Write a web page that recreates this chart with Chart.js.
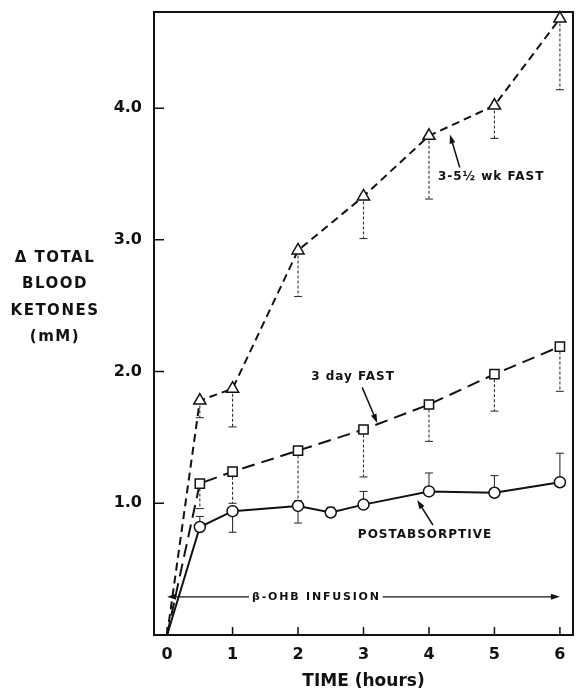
<!DOCTYPE html>
<html>
<head>
<meta charset="utf-8">
<script src="https://cdn.jsdelivr.net/npm/chart.js@4.4.1/dist/chart.umd.min.js"></script>
<style>
html, body { margin: 0; padding: 0; background: #fff; }
#wrap { width: 576px; height: 692px; }
</style>
</head>
<body>
<div id="wrap"><canvas id="ketones"></canvas></div>
<script>
// time points (hours)
const fastTimes = [0, 0.5, 1, 2, 3, 4, 5, 6];
const postTimes = [0, 0.5, 1, 2, 2.5, 3, 4, 5, 6];

// 3-5 1/2 wk fast (triangles) + end of its error bars
const wkFast    = [0, 1.78, 1.87, 2.92, 3.33, 3.79, 4.02, 4.68];
const wkFastErr = [null, 1.65, 1.58, 2.57, 3.01, 3.31, 3.77, 4.14];

// 3 day fast (squares)
const dayFast    = [0, 1.15, 1.24, 1.40, 1.56, 1.75, 1.98, 2.19];
const dayFastErr = [null, 0.96, 1.00, 1.02, 1.20, 1.47, 1.70, 1.85];

// postabsorptive (circles)
const postAbs    = [0, 0.82, 0.94, 0.98, 0.93, 0.99, 1.09, 1.08, 1.16];
const postAbsErr = [null, 0.90, 0.78, 0.85, 0.97, 1.09, 1.23, 1.21, 1.38];

const xTicks = [0, 1, 2, 3, 4, 5, 6];
const yTicks = [1, 2, 3, 4];
const yTitle = ['\u0394 TOTAL', 'BLOOD', 'KETONES', '(mM)'];

// labels written on the plot, in data units
const notes = [
  { text: '3-5\u00bd wk FAST', x: 4.95, y: 3.48, from: [4.47, 3.55], to: [4.32, 3.80] },
  { text: '3 day FAST', x: 2.84, y: 1.96, from: [2.98, 1.88], to: [3.21, 1.61] },
  { text: 'POSTABSORPTIVE', x: 3.94, y: 0.76, from: [4.06, 0.835], to: [3.82, 1.025] }
];
const infusion = { text: '\u03b2-OHB INFUSION', from: 0, to: 6, y: 0.29, textX: 2.28 };

const FONT = "'DejaVu Sans', 'Liberation Sans', sans-serif";

function pts(xs, ys) {
  return xs.map((x, i) => ({ x: x, y: ys[i] }));
}

function arrow(ctx, x1, y1, x2, y2, head) {
  const a = Math.atan2(y2 - y1, x2 - x1);
  const c = Math.cos(a), s = Math.sin(a);
  ctx.beginPath();
  ctx.moveTo(x1, y1);
  ctx.lineTo(x2 - c * head * 0.5, y2 - s * head * 0.5);
  ctx.stroke();
  ctx.beginPath();
  ctx.moveTo(x2, y2);
  ctx.lineTo(x2 - head * c + head * 0.33 * s, y2 - head * s - head * 0.33 * c);
  ctx.lineTo(x2 - head * c - head * 0.33 * s, y2 - head * s + head * 0.33 * c);
  ctx.closePath();
  ctx.fill();
}

const errorBars = {
  id: 'errorBars',
  beforeDatasetsDraw(chart) {
    const ctx = chart.ctx, xs = chart.scales.x, ys = chart.scales.y;
    const sets = [
      [fastTimes, wkFast, wkFastErr, [3, 2]],
      [fastTimes, dayFast, dayFastErr, [3, 2]],
      [postTimes, postAbs, postAbsErr, []]
    ];
    ctx.save();
    ctx.strokeStyle = '#333';
    ctx.lineWidth = 1.1;
    sets.forEach(([t, v, e, dash]) => {
      t.forEach((time, i) => {
        if (e[i] == null) return;
        const px = xs.getPixelForValue(time);
        const y0 = ys.getPixelForValue(v[i]);
        const y1 = ys.getPixelForValue(e[i]);
        ctx.setLineDash(dash);
        ctx.beginPath();
        ctx.moveTo(px, y0);
        ctx.lineTo(px, y1);
        ctx.stroke();
        ctx.setLineDash([]);
        ctx.beginPath();
        ctx.moveTo(px - 4, y1);
        ctx.lineTo(px + 4, y1);
        ctx.stroke();
      });
    });
    ctx.restore();
  }
};

const decorations = {
  id: 'decorations',
  afterDraw(chart) {
    const ctx = chart.ctx, area = chart.chartArea;
    const xs = chart.scales.x, ys = chart.scales.y;
    ctx.save();
    ctx.strokeStyle = '#111';
    ctx.fillStyle = '#111';

    // frame
    ctx.lineWidth = 2;
    ctx.strokeRect(area.left, area.top, area.right - area.left, area.bottom - area.top);

    // inward tick marks
    ctx.lineWidth = 1.5;
    ctx.beginPath();
    yTicks.forEach(v => {
      const py = ys.getPixelForValue(v);
      ctx.moveTo(area.left, py);
      ctx.lineTo(area.left + 10, py);
    });
    xTicks.forEach(v => {
      const px = xs.getPixelForValue(v);
      ctx.moveTo(px, area.bottom);
      ctx.lineTo(px, area.bottom - 8);
    });
    ctx.stroke();

    // y title, horizontal lines
    ctx.font = 'bold 15px ' + FONT;
    ctx.textAlign = 'center';
    ctx.textBaseline = 'middle';
    ctx.letterSpacing = '1.5px';
    yTitle.forEach((line, i) => ctx.fillText(line, 55, 258 + i * 26.5));

    // curve labels with arrows
    ctx.letterSpacing = '1px';
    ctx.lineWidth = 1.5;
    notes.forEach(n => {
      ctx.font = 'bold 12px ' + FONT;
      ctx.fillText(n.text, xs.getPixelForValue(n.x), ys.getPixelForValue(n.y));
      arrow(ctx, xs.getPixelForValue(n.from[0]), ys.getPixelForValue(n.from[1]),
        xs.getPixelForValue(n.to[0]), ys.getPixelForValue(n.to[1]), 9);
    });

    // infusion arrow
    ctx.font = 'bold 11px ' + FONT;
    ctx.letterSpacing = '1.8px';
    const iy = ys.getPixelForValue(infusion.y);
    const tx = xs.getPixelForValue(infusion.textX);
    const w = ctx.measureText(infusion.text).width;
    ctx.fillText(infusion.text, tx, iy);
    const xa = xs.getPixelForValue(infusion.from), xb = xs.getPixelForValue(infusion.to);
    ctx.lineWidth = 1.2;
    arrow(ctx, tx - w / 2 - 3, iy, xa, iy, 9);
    arrow(ctx, tx + w / 2 + 2, iy, xb, iy, 9);
    ctx.restore();
  }
};

new Chart(document.getElementById('ketones'), {
  type: 'scatter',
  data: {
    datasets: [
      {
        label: '3-5\u00bd wk FAST',
        data: pts(fastTimes, wkFast),
        showLine: true,
        borderColor: '#111',
        borderWidth: 2,
        borderDash: [8, 5],
        pointStyle: 'triangle',
        pointRadius: wkFast.map((v, i) => i === 0 ? 0 : 7),
        pointBorderWidth: 1.5,
        pointBackgroundColor: '#fff',
        pointBorderColor: '#111'
      },
      {
        label: '3 day FAST',
        data: pts(fastTimes, dayFast),
        showLine: true,
        borderColor: '#111',
        borderWidth: 2,
        borderDash: [13, 7],
        pointStyle: 'rect',
        pointRadius: dayFast.map((v, i) => i === 0 ? 0 : 6.5),
        pointBorderWidth: 1.5,
        pointBackgroundColor: '#fff',
        pointBorderColor: '#111'
      },
      {
        label: 'POSTABSORPTIVE',
        data: pts(postTimes, postAbs),
        showLine: true,
        borderColor: '#111',
        borderWidth: 2,
        pointStyle: 'circle',
        pointRadius: postAbs.map((v, i) => i === 0 ? 0 : 5.5),
        pointBorderWidth: 1.5,
        pointBackgroundColor: '#fff',
        pointBorderColor: '#111'
      }
    ]
  },
  options: {
    responsive: true,
    maintainAspectRatio: false,
    animation: false,
    clip: false,
    layout: { autoPadding: false, padding: { top: 12, right: 3, left: 0, bottom: 0 } },
    plugins: {
      legend: { display: false },
      tooltip: { enabled: false }
    },
    scales: {
      x: {
        type: 'linear',
        min: -0.2,
        max: 6.2,
        afterBuildTicks: s => { s.ticks = xTicks.map(v => ({ value: v })); },
        afterFit: s => { s.height = 57; s.paddingLeft = 0; s.paddingRight = 0; },
        grid: { display: false, drawTicks: false },
        border: { display: false },
        ticks: { color: '#111', padding: 10, font: { family: FONT, size: 16, weight: 'bold' } },
        title: {
          display: true,
          text: 'TIME (hours)',
          color: '#111',
          padding: { top: 0, bottom: 0 },
          font: { family: FONT, size: 17, weight: 'bold' }
        }
      },
      y: {
        min: 0,
        max: 4.73,
        afterBuildTicks: s => { s.ticks = yTicks.map(v => ({ value: v })); },
        afterFit: s => { s.width = 154; s.paddingTop = 0; s.paddingBottom = 0; },
        grid: { display: false, drawTicks: false },
        border: { display: false },
        ticks: {
          color: '#111',
          padding: 12,
          font: { family: FONT, size: 16, weight: 'bold' },
          callback: v => v.toFixed(1)
        }
      }
    }
  },
  plugins: [errorBars, decorations]
});
</script>
</body>
</html>
